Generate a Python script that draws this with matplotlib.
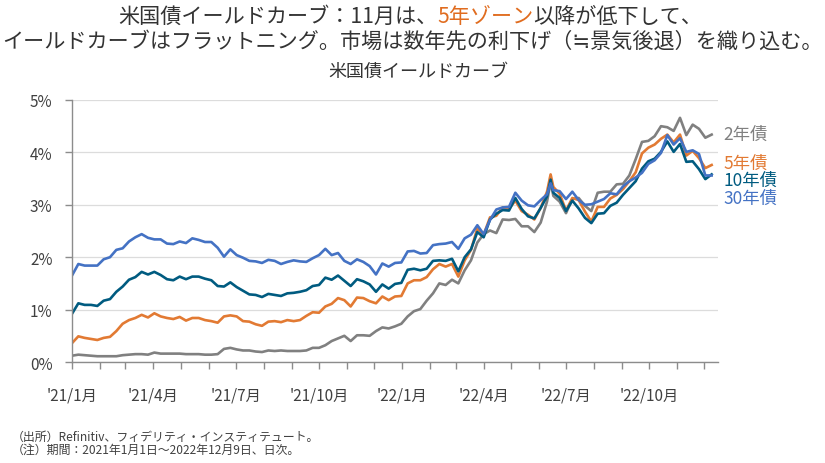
import matplotlib
matplotlib.use('Agg')
import matplotlib.pyplot as plt
import matplotlib.dates as mdates
import matplotlib.transforms as mtransforms
import pandas as pd

plt.rcParams['font.family'] = ['Noto Sans CJK JP', 'DejaVu Sans']

# ---- data (weekly) ----
y2_2021 = [0.12, 0.14, 0.13, 0.12, 0.11, 0.11, 0.11, 0.11, 0.13, 0.14, 0.15, 0.15, 0.14,
           0.18, 0.16, 0.16, 0.16, 0.16, 0.15, 0.15, 0.15, 0.14, 0.14, 0.15, 0.25, 0.27,
           0.24, 0.22, 0.22, 0.20, 0.19, 0.22, 0.21, 0.22, 0.21, 0.21, 0.21, 0.22, 0.27,
           0.27, 0.32, 0.40, 0.45, 0.50, 0.40, 0.51, 0.51, 0.50, 0.59, 0.66, 0.64, 0.68, 0.73]
y2_2022 = [0.87, 0.97, 1.01, 1.17, 1.31, 1.50, 1.47, 1.57, 1.50, 1.75, 1.94, 2.28,
           2.44, 2.51, 2.46, 2.72, 2.71, 2.73, 2.59, 2.59, 2.48, 2.66, 3.06, 3.43, 3.17, 3.06,
           2.84, 3.11, 3.13, 2.98, 2.88, 3.23, 3.25, 3.25, 3.39, 3.40, 3.56, 3.87, 4.20, 4.22,
           4.31, 4.50, 4.48, 4.41, 4.66, 4.33, 4.53, 4.45, 4.28, 4.34]

y5_2021 = [0.36, 0.49, 0.46, 0.44, 0.42, 0.46, 0.48, 0.59, 0.73, 0.80, 0.84, 0.90, 0.85,
           0.93, 0.87, 0.84, 0.82, 0.86, 0.79, 0.84, 0.84, 0.80, 0.78, 0.75, 0.87, 0.89,
           0.87, 0.78, 0.77, 0.72, 0.69, 0.77, 0.78, 0.76, 0.80, 0.78, 0.80, 0.88, 0.95,
           0.94, 1.06, 1.11, 1.22, 1.18, 1.06, 1.23, 1.22, 1.16, 1.12, 1.25, 1.18, 1.25, 1.26]
y5_2022 = [1.50, 1.56, 1.56, 1.62, 1.77, 1.87, 1.82, 1.87, 1.63, 1.94, 2.14, 2.55,
           2.43, 2.76, 2.79, 2.95, 2.92, 3.08, 2.88, 2.81, 2.72, 2.94, 3.25, 3.58, 3.34, 3.21,
           2.89, 3.13, 3.09, 2.87, 2.68, 2.96, 2.96, 3.12, 3.19, 3.30, 3.45, 3.62, 3.98, 4.09,
           4.15, 4.26, 4.34, 4.19, 4.34, 3.94, 4.03, 3.89, 3.70, 3.76]

y10_2021 = [0.92, 1.12, 1.09, 1.09, 1.07, 1.17, 1.20, 1.34, 1.44, 1.57, 1.62, 1.72, 1.67,
            1.72, 1.66, 1.58, 1.56, 1.63, 1.58, 1.63, 1.63, 1.59, 1.56, 1.45, 1.44, 1.52,
            1.43, 1.36, 1.29, 1.28, 1.24, 1.30, 1.28, 1.26, 1.31, 1.32, 1.34, 1.37, 1.45,
            1.47, 1.61, 1.57, 1.65, 1.55, 1.45, 1.58, 1.54, 1.48, 1.34, 1.48, 1.40, 1.49, 1.51]
y10_2022 = [1.76, 1.78, 1.75, 1.78, 1.93, 1.94, 1.93, 1.97, 1.73, 2.00, 2.15, 2.48,
            2.38, 2.72, 2.83, 2.90, 2.89, 3.13, 2.92, 2.78, 2.74, 2.94, 3.16, 3.48, 3.23, 3.13,
            2.88, 3.08, 2.93, 2.75, 2.65, 2.83, 2.84, 2.98, 3.04, 3.19, 3.32, 3.45, 3.69, 3.83,
            3.88, 4.01, 4.21, 4.01, 4.16, 3.82, 3.83, 3.68, 3.49, 3.58]

y30_2021 = [1.65, 1.87, 1.84, 1.84, 1.84, 1.96, 2.00, 2.14, 2.17, 2.30, 2.38, 2.44, 2.37,
            2.34, 2.34, 2.26, 2.25, 2.30, 2.27, 2.36, 2.33, 2.29, 2.29, 2.18, 2.01, 2.15,
            2.04, 1.99, 1.93, 1.92, 1.89, 1.95, 1.93, 1.87, 1.91, 1.94, 1.92, 1.91, 1.98,
            2.04, 2.16, 2.04, 2.08, 1.93, 1.87, 1.96, 1.91, 1.83, 1.67, 1.88, 1.82, 1.89, 1.90]
y30_2022 = [2.11, 2.12, 2.07, 2.08, 2.23, 2.25, 2.26, 2.29, 2.16, 2.36, 2.43, 2.61,
            2.44, 2.71, 2.91, 2.95, 2.96, 3.23, 3.08, 2.99, 2.97, 3.09, 3.20, 3.41, 3.28, 3.26,
            3.11, 3.25, 3.09, 3.00, 3.01, 3.06, 3.11, 3.22, 3.20, 3.35, 3.45, 3.52, 3.61, 3.78,
            3.85, 3.99, 4.33, 4.15, 4.27, 4.01, 4.04, 3.97, 3.56, 3.56]

series_names = ['2年債', '5年債', '10年債', '30年債']
series_values = [y2_2021 + y2_2022, y5_2021 + y5_2022, y10_2021 + y10_2022, y30_2021 + y30_2022]
colors = ['#808080', '#e27a33', '#005b80', '#4472c4']
label_y = [4.36, 3.80, 3.47, 3.13]

dates = pd.date_range('2021-01-01', '2022-12-09', freq='W-FRI').append(
    pd.DatetimeIndex(['2022-06-14'])).sort_values()

text_col = '#404040'

fig = plt.figure(figsize=(8.25, 4.64), dpi=100)
ax = fig.add_axes([72 / 825, 1 - 363 / 464, (718 - 72) / 825, (363 - 101) / 464])

for vals, c in zip(series_values, colors):
    ax.plot(dates, vals, color=c, lw=1.9, solid_joinstyle='round')

ax.set_xlim(pd.Timestamp('2021-01-01'), pd.Timestamp('2022-12-16'))
ax.set_ylim(0, 5)
ax.set_yticks([0, 1, 2, 3, 4, 5])
ax.yaxis.set_major_formatter(plt.FuncFormatter(lambda v, p: f'{v:.0f}%'))
ax.xaxis.set_major_locator(mdates.MonthLocator(bymonth=[1, 4, 7, 10]))
ax.xaxis.set_minor_locator(mdates.MonthLocator())
ax.xaxis.set_major_formatter(plt.FuncFormatter(
    lambda v, p: f"'{mdates.num2date(v).year % 100}/{mdates.num2date(v).month}月"))

ax.grid(axis='y', color='#dcdcdc', lw=0.9)
ax.set_axisbelow(True)
for s in ['top', 'right']:
    ax.spines[s].set_visible(False)
for s in ['left', 'bottom']:
    ax.spines[s].set_color('#8c8c8c')
    ax.spines[s].set_linewidth(1.0)

ax.tick_params(axis='both', which='both', direction='out', length=5, width=1.0,
               color='#8c8c8c', labelcolor=text_col, labelsize=11)
ax.tick_params(axis='x', which='major', pad=12.5)
ax.tick_params(axis='y', pad=9)

trans = mtransforms.blended_transform_factory(ax.transAxes, ax.transData)
for name, c, yy in zip(series_names, colors, label_y):
    ax.text(1.008, yy, name, color=c, fontsize=12.5, transform=trans, ha='left', va='center')

# ---- titles ----
def rich_line(parts, y_px, size, cx=412):
    texts = [fig.text(0, 1 - y_px / 464, s, color=c, fontsize=size, ha='left', va='center')
             for s, c in parts]
    fig.canvas.draw()
    r = fig.canvas.get_renderer()
    widths = [t.get_window_extent(r).width for t in texts]
    x = cx - sum(widths) / 2
    for t, w in zip(texts, widths):
        t.set_x(x / 825)
        x += w

rich_line([('米国債イールドカーブ：11月は、', '#333333'), ('5年ゾーン', '#e06c1f'),
           ('以降が低下して、', '#333333')], 17, 15.2, cx=410)
rich_line([('イールドカーブはフラットニング。市場は数年先の利下げ（≒景気後退）を織り込む。', '#333333')],
          42, 15.2)
fig.text(418 / 825, 1 - 72 / 464, '米国債イールドカーブ', color='#333333', fontsize=13,
         ha='center', va='center')

fig.text(12 / 825, 1 - 437 / 464, '（出所）Refinitiv、フィデリティ・インスティテュート。',
         color=text_col, fontsize=8.6, ha='left', va='center')
fig.text(12 / 825, 1 - 450 / 464, '（注）期間：2021年1月1日～2022年12月9日、日次。',
         color=text_col, fontsize=8.6, ha='left', va='center')

fig.savefig('out.png', dpi=100)
